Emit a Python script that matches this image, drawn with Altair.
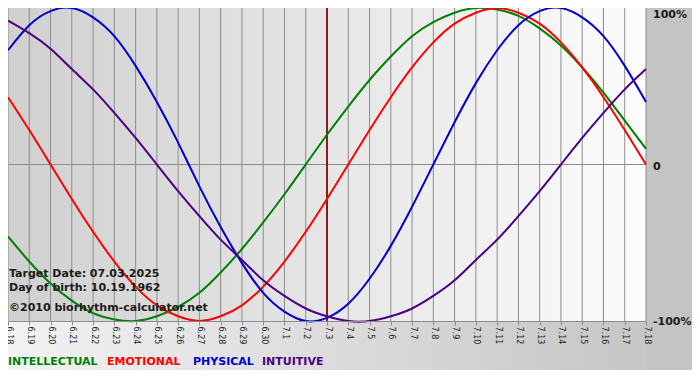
import altair as alt
import pandas as pd

# ---- data ----
dates = ["6.18", "6.19", "6.20", "6.21", "6.22", "6.23", "6.24", "6.25", "6.26",
         "6.27", "6.28", "6.29", "6.30", "7.1", "7.2", "7.3", "7.4", "7.5", "7.6",
         "7.7", "7.8", "7.9", "7.10", "7.11", "7.12", "7.13", "7.14", "7.15",
         "7.16", "7.17", "7.18"]

intellectual = [-0.46, -0.62, -0.76, -0.87, -0.95, -0.99, -1.00, -0.97, -0.91, -0.82,
                -0.69, -0.54, -0.37, -0.19, 0.00, 0.19, 0.37, 0.54, 0.69, 0.82, 0.91,
                0.97, 1.00, 0.99, 0.95, 0.87, 0.76, 0.62, 0.46, 0.28, 0.10]
emotional = [0.43, 0.22, 0.00, -0.22, -0.43, -0.62, -0.78, -0.90, -0.97, -1.00, -0.97,
             -0.90, -0.78, -0.62, -0.43, -0.22, 0.00, 0.22, 0.43, 0.62, 0.78, 0.90,
             0.97, 1.00, 0.97, 0.90, 0.78, 0.62, 0.43, 0.22, 0.00]
physical = [0.73, 0.89, 0.98, 1.00, 0.94, 0.82, 0.63, 0.40, 0.14, -0.14, -0.40, -0.63,
            -0.82, -0.94, -1.00, -0.98, -0.89, -0.73, -0.52, -0.27, 0.00, 0.27, 0.52,
            0.73, 0.89, 0.98, 1.00, 0.94, 0.82, 0.63, 0.40]
intuitive = [0.92, 0.84, 0.74, 0.61, 0.48, 0.33, 0.17, 0.00, -0.17, -0.33, -0.48, -0.61,
             -0.74, -0.84, -0.92, -0.97, -1.00, -1.00, -0.97, -0.92, -0.84, -0.74,
             -0.61, -0.48, -0.33, -0.17, 0.00, 0.17, 0.33, 0.48, 0.61]

series_names = ["INTELLECTUAL", "EMOTIONAL", "PHYSICAL", "INTUITIVE"]
series_colors = ["#008000", "#ff0000", "#0000cc", "#4b0082"]
target_date = "7.3"
y_ticks = [1, 0, -1]
y_labels = ["100%", "0", "-100%"]
info_lines = ["Target Date: 07.03.2025", "Day of birth: 10.19.1962",
              "\u00a92010 biorhythm-calculator.net"]

# ---- layout ----
W, H = 638, 313
FONT = "DejaVu Sans"

rows = []
for name, vals in zip(series_names, [intellectual, emotional, physical, intuitive]):
    for i, v in enumerate(vals):
        rows.append({"day": i, "value": v, "series": name})
df = pd.DataFrame(rows)

label_expr = "[" + ",".join("'%s'" % d for d in dates) + "][datum.value]"
x_axis = alt.Axis(values=list(range(len(dates))), labelExpr=label_expr, labelAngle=90,
                  labelFont=FONT, labelFontSize=8, labelColor="#222222", labelPadding=1,
                  labelOverlap=False, tickSize=4, tickColor="#8c8c8c",
                  domainColor="#8c8c8c", grid=False, title=None, zindex=1)
xscale = alt.Scale(domain=[0, len(dates) - 1], nice=False, zero=False)
yscale = alt.Scale(domain=[-1, 1], nice=False, zero=False)
x_enc = alt.X("day:Q", scale=xscale, axis=x_axis)
y_enc = alt.Y("value:Q", scale=yscale, axis=None)

one = pd.DataFrame({"a": [0]})

plot_bg = alt.Chart(one).mark_rect(
    fill=alt.LinearGradient(gradient="linear",
                            stops=[alt.GradientStop(color="#d0d0d0", offset=0),
                                   alt.GradientStop(color="#fcfcfc", offset=1)],
                            x1=0, x2=1, y1=0, y2=0)
).encode(x=alt.value(0), x2=alt.value(W), y=alt.value(0), y2=alt.value(H))

bottom_bg = alt.Chart(one).mark_rect(
    fill=alt.LinearGradient(gradient="linear",
                            stops=[alt.GradientStop(color="#f2f2f2", offset=0),
                                   alt.GradientStop(color="#c6c6c6", offset=1)],
                            x1=0, x2=1, y1=0, y2=0)
).encode(x=alt.value(0), x2=alt.value(W), y=alt.value(H), y2=alt.value(H + 49))

right_bg = alt.Chart(one).mark_rect(fill="#c4c4c4").encode(
    x=alt.value(W), x2=alt.value(W + 46), y=alt.value(0), y2=alt.value(H + 49))

grid = alt.Chart(pd.DataFrame({"day": list(range(len(dates)))})).mark_rule(
    color="#8c8c8c", strokeWidth=1).encode(x=x_enc)

zero = alt.Chart(pd.DataFrame({"value": [0]})).mark_rule(
    color="#8c8c8c", strokeWidth=1).encode(y=y_enc)

target = alt.Chart(pd.DataFrame({"day": [dates.index(target_date)]})).mark_rule(
    color="#8b1c1c", strokeWidth=2).encode(x=x_enc)

lines = alt.Chart(df).mark_line(strokeWidth=2, interpolate="natural").encode(
    x=x_enc, y=y_enc,
    color=alt.Color("series:N", scale=alt.Scale(domain=series_names, range=series_colors),
                    legend=None))

layers = [plot_bg, bottom_bg, right_bg, grid, zero, target, lines]

for tick, lab, dy in zip(y_ticks, y_labels, [7, 2, 1]):
    layers.append(
        alt.Chart(pd.DataFrame({"value": [tick], "label": [lab]})).mark_text(
            align="left", baseline="middle", dy=dy, font=FONT, fontWeight="bold",
            fontSize=11, color="#1a1a1a").encode(x=alt.value(W + 7), y=y_enc,
                                                  text="label:N"))

for name, col, xo in zip(series_names, series_colors, [0, 99, 185, 254]):
    layers.append(
        alt.Chart(pd.DataFrame({"t": [name]})).mark_text(
            align="left", baseline="alphabetic", font=FONT, fontWeight="bold",
            fontSize=11, color=col).encode(x=alt.value(xo), y=alt.value(H + 44),
                                           text="t:N"))

for line, yy in zip(info_lines, [H - 44, H - 30, H - 10]):
    layers.append(
        alt.Chart(pd.DataFrame({"t": [line]})).mark_text(
            align="left", baseline="alphabetic", font=FONT, fontWeight="bold",
            fontSize=11, color="#1a1a1a").encode(x=alt.value(1), y=alt.value(yy),
                                                 text="t:N"))

chart = alt.layer(*layers).properties(
    width=W, height=H,
    autosize=alt.AutoSizeParams(type="none"),
    padding={"left": 0, "top": 0, "right": 46, "bottom": 49},
    background="white",
).configure_view(stroke=None)

chart.save("out.html", embed_options={"renderer": "svg", "actions": False})
